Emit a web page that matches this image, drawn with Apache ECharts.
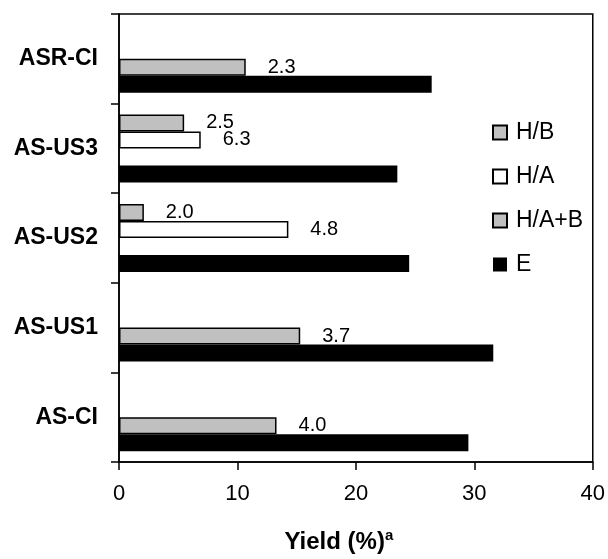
<!DOCTYPE html>
<html>
<head>
<meta charset="utf-8">
<script src="https://cdn.jsdelivr.net/npm/echarts@6/dist/echarts.min.js"></script>
<style>
  html, body { margin: 0; padding: 0; background: #fff; }
  #chart { width: 608px; height: 559px; }
</style>
</head>
<body>
<div id="chart"></div>
<script>
// categories, bottom to top
const categories = ['AS-CI', 'AS-US1', 'AS-US2', 'AS-US3', 'ASR-CI']
const xTicks = [0, 10, 20, 30, 40]

// yield (%) per series
const hB = [null, null, 2.1, 5.5, null]
const hA = [null, null, 14.3, 6.9, null]
const hAB = [13.3, 15.3, null, null, 10.7]
const eVals = [29.5, 31.6, 24.5, 23.5, 26.4]

// numbers printed next to the bars
const hBLabels = ['', '', '2.0', '2.5', '']
const hALabels = ['', '', '4.8', '6.3', '']
const hABLabels = ['4.0', '3.7', '', '', '2.3']

const font = 'Liberation Sans, Arial, sans-serif'

const barLabel = texts => ({
  show: true,
  position: 'right',
  distance: 22,
  fontFamily: font,
  fontSize: 20,
  color: '#000',
  formatter: p => texts[p.dataIndex] || ''
})

const makeSeries = (name, data, fill, texts) => ({
  name: name,
  type: 'bar',
  data: data,
  barWidth: 17,
  barGap: '0%',
  itemStyle: {
    color: fill,
    borderColor: '#000',
    borderWidth: fill === '#000' ? 0 : 1.5
  },
  label: texts ? barLabel(texts) : { show: false },
  emphasis: { disabled: true }
})

const myChart = echarts.init(document.getElementById('chart'))

const option = {
  animation: false,
  backgroundColor: '#fff',
  textStyle: { fontFamily: font },
  grid: {
    left: 119,
    right: 13,
    top: 14,
    bottom: 97,
    show: true,
    borderColor: '#000',
    borderWidth: 1.5
  },
  legend: {
    orient: 'vertical',
    left: 487,
    top: 116,
    itemWidth: 14,
    itemHeight: 14,
    itemGap: 21,
    icon: 'rect',
    textStyle: { fontFamily: font, fontSize: 23, color: '#000', padding: [0, 0, 0, 4] },
    data: ['H/B', 'H/A', 'H/A+B', 'E']
  },
  xAxis: {
    type: 'value',
    min: xTicks[0],
    max: xTicks[xTicks.length - 1],
    interval: 10,
    splitLine: { show: false },
    axisLine: { show: true, lineStyle: { color: '#000', width: 1.5 } },
    axisTick: { show: true, length: 8, inside: false, lineStyle: { color: '#000', width: 1.5 } },
    axisLabel: { fontFamily: font, fontSize: 22, color: '#000', margin: 21 },
    name: '{t|Yield (%)}{s|a}',
    nameLocation: 'middle',
    nameGap: 66,
    nameTextStyle: {
      padding: [0, 34, 0, 0],
      rich: {
        t: { fontFamily: font, fontSize: 24, fontWeight: 'bold', color: '#000', lineHeight: 28 },
        s: { fontFamily: font, fontSize: 15, fontWeight: 'bold', color: '#000', verticalAlign: 'top', lineHeight: 28 }
      }
    }
  },
  yAxis: {
    type: 'category',
    data: categories,
    axisLine: { show: true, lineStyle: { color: '#000', width: 1.5 } },
    axisTick: { show: true, length: 8, lineStyle: { color: '#000', width: 1.5 } },
    axisLabel: { fontFamily: font, fontSize: 23, fontWeight: 'bold', color: '#000', margin: 21 }
  },
  series: [
    makeSeries('H/B', hB, '#c0c0c0', hBLabels),
    makeSeries('H/A', hA, '#fff', hALabels),
    makeSeries('H/A+B', hAB, '#c0c0c0', hABLabels),
    makeSeries('E', eVals, '#000', null)
  ]
}

myChart.setOption(option)
</script>
</body>
</html>
